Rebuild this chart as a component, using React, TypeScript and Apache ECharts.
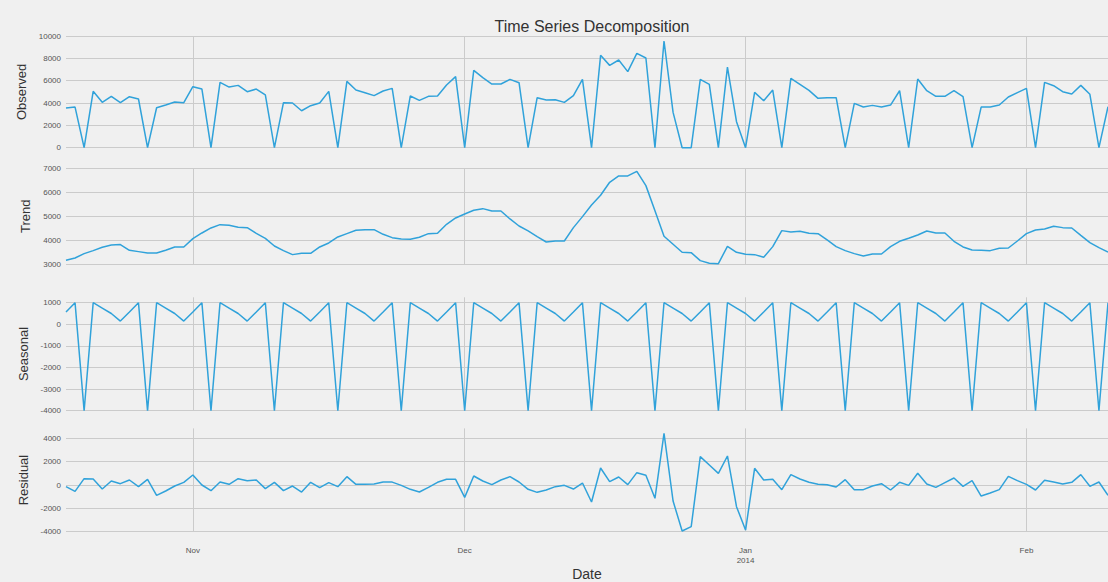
import React, { useEffect, useRef } from "react";
import * as echarts from "echarts";

const START_DATE = [2013, 9, 18]; // 2013-10-18 (month 0-based)

const observed = [
  3550, 3640, 0, 5045, 4060, 4600, 4030, 4570, 4360, 0,
  3580, 3820, 4090, 4030, 5460, 5250, 0, 5850, 5430, 5580,
  5015, 5250, 4720, 0, 4030, 4000, 3310, 3760, 4000, 5045,
  0, 5940, 5160, 4925, 4660, 5075, 5310, 0, 4630, 4240,
  4600, 4630, 5610, 6360, 0, 6925, 6270, 5700, 5700, 6120,
  5820, 0, 4480, 4270, 4300, 4060, 4660, 6120, 0, 8270,
  7370, 7850, 6810, 8450, 8030, 0, 9550, 3160, 0, 0,
  6120, 5670, 0, 7220, 2330, 0, 4955, 4210, 5160, 0,
  6210, 5670, 5130, 4420, 4480, 4480, 0, 3970, 3640, 3790,
  3640, 3820, 5100, 0, 6150, 5100, 4600, 4600, 5100, 4570,
  0, 3640, 3640, 3820, 4540, 4925, 5310, 0, 5850, 5550,
  5015, 4810, 5580, 4780, 0, 3670,
];

const trend = [
  3167, 3264, 3444, 3569, 3708, 3805, 3820, 3583, 3528, 3472,
  3472, 3583, 3722, 3722, 4069, 4305, 4514, 4653, 4625, 4542,
  4528, 4292, 4083, 3764, 3569, 3403, 3458, 3458, 3722, 3889,
  4139, 4278, 4417, 4444, 4444, 4250, 4111, 4056, 4042, 4125,
  4278, 4292, 4667, 4930, 5097, 5250, 5319, 5222, 5222, 4889,
  4597, 4389, 4153, 3930, 3972, 3972, 4528, 4986, 5472, 5875,
  6417, 6681, 6681, 6875, 6278, 5236, 4167, 3833, 3500, 3486,
  3153, 3042, 3028, 3750, 3500, 3417, 3403, 3292, 3736, 4403,
  4347, 4375, 4292, 4278, 4014, 3736, 3569, 3444, 3347, 3430,
  3430, 3736, 3958, 4083, 4222, 4389, 4305, 4305, 3958, 3722,
  3597, 3583, 3569, 3667, 3680, 3972, 4278, 4430, 4472, 4583,
  4528, 4514, 4208, 3903, 3694, 3514,
];

const seasonal = [
  570, 1000, -4000, 1000, 750, 500, 150,
  570, 1000, -4000, 1000, 750, 500, 150,
  570, 1000, -4000, 1000, 750, 500, 150,
  570, 1000, -4000, 1000, 750, 500, 150,
  570, 1000, -4000, 1000, 750, 500, 150,
  570, 1000, -4000, 1000, 750, 500, 150,
  570, 1000, -4000, 1000, 750, 500, 150,
  570, 1000, -4000, 1000, 750, 500, 150,
  570, 1000, -4000, 1000, 750, 500, 150,
  570, 1000, -4000, 1000, 750, 500, 150,
  570, 1000, -4000, 1000, 750, 500, 150,
  570, 1000, -4000, 1000, 750, 500, 150,
  570, 1000, -4000, 1000, 750, 500, 150,
  570, 1000, -4000, 1000, 750, 500, 150,
  570, 1000, -4000, 1000, 750, 500, 150,
  570, 1000, -4000, 1000, 750, 500, 150,
  570, 1000, -4000, 1000,
];

const residual = [
  -143, -543, 543, 514, -343, 343, 114, 429, -143, 486,
  -886, -514, -86, 229, 857, 0, -486, 257, 57, 543,
  371, 429, -314, 229, -486, -86, -600, 229, -229, 200,
  -143, 714, 57, 57, 86, 257, 250, -30, -371, -600,
  -200, 229, 486, 486, -1057, 771, 343, 29, 429, 714,
  257, -371, -629, -429, -143, -29, -343, 171, -1457, 1457,
  286, 686, 29, 1057, 829, -1143, 4429, -1371, -3943, -3571,
  2429, 1714, 1000, 2486, -1857, -3857, 1429, 429, 486, -400,
  886, 514, 229, 57, 29, -171, 457, -400, -400, -86,
  114, -429, 229, -29, 1000, 86, -200, 200, 600, -114,
  371, -943, -686, -400, 743, 371, 57, -429, 400, 257,
  86, 229, 886, -114, 257, -886,
];

const MONTHS = ["Jan", "Feb", "Mar", "Apr", "May", "Jun", "Jul", "Aug", "Sep", "Oct", "Nov", "Dec"];

const dates: string[] = observed.map((_, i) =>
  new Date(Date.UTC(START_DATE[0], START_DATE[1], START_DATE[2] + i)).toISOString().slice(0, 10)
);

const panelNames = ["Observed", "Trend", "Seasonal", "Residual"];
const panelSeries = [observed, trend, seasonal, residual];
const panelMin = [0, 3000, -4000, -4000];
const panelMax = [10000, 7000, 1250, 4848];
const panelInterval = [2000, 1000, 1000, 2000];

const FONT = "Liberation Sans, Arial, sans-serif";
const LINE_COLOR = "#30a2da";
const GRID_COLOR = "#cbcbcb";

const isMonthStart = (_i: number, v: string) => v.slice(8, 10) === "01";

export default function App() {
  const ref = useRef<HTMLDivElement>(null);

  useEffect(() => {
    if (!ref.current) return;
    const chart = echarts.init(ref.current, null, { renderer: "svg" });

    const layout = [
      { top: 36, height: 111.7 },
      { top: 168.3, height: 96 },
      { top: 297.3, height: 113.4 },
      { top: 428.4, height: 103.3 },
    ];

    const option: any = {
      animation: false,
      backgroundColor: "#f0f0f0",
      title: {
        text: "Time Series Decomposition",
        left: 587,
        top: 13,
        textAlign: "center",
        textStyle: { fontFamily: FONT, fontSize: 16, fontWeight: "normal", color: "#333" },
      },
      grid: layout.map((l) => ({ left: 66, width: 1042, top: l.top, height: l.height })),
      xAxis: panelNames.map((_, k) => ({
        type: "category",
        gridIndex: k,
        data: dates,
        boundaryGap: false,
        axisLine: { show: false },
        axisTick: { show: false },
        axisLabel: {
          show: k === 3,
          interval: isMonthStart,
          fontFamily: FONT,
          fontSize: 8,
          color: "#555",
          margin: 14,
          lineHeight: 10,
          formatter: (v: string) => {
            const y = v.slice(0, 4);
            const m = parseInt(v.slice(5, 7), 10) - 1;
            return m === 0 ? MONTHS[m] + "\n" + y : MONTHS[m];
          },
        },
        splitLine: { show: true, interval: isMonthStart, lineStyle: { color: GRID_COLOR, width: 1 } },
        name: k === 3 ? "Date" : "",
        nameLocation: "middle",
        nameGap: 34,
        nameTextStyle: { fontFamily: FONT, fontSize: 14, color: "#333" },
      })),
      yAxis: panelNames.map((name, k) => ({
        type: "value",
        gridIndex: k,
        min: panelMin[k],
        max: panelMax[k],
        interval: panelInterval[k],
        axisLine: { show: false },
        axisTick: { show: false },
        axisLabel: {
          fontFamily: FONT,
          fontSize: 8,
          color: "#555",
          margin: 5,
          showMaxLabel: k === 0 || k === 1,
          formatter: (v: number) => String(v),
        },
        splitLine: {
          show: true,
          showMaxLine: k === 0 || k === 1,
          lineStyle: { color: GRID_COLOR, width: 1 },
        },
        name,
        nameLocation: "middle",
        nameGap: 28,
        nameTextStyle: { fontFamily: FONT, fontSize: 13, color: "#333" },
      })),
      series: panelSeries.map((data, k) => ({
        type: "line",
        name: panelNames[k],
        xAxisIndex: k,
        yAxisIndex: k,
        data,
        showSymbol: false,
        symbol: "none",
        clip: false,
        lineStyle: { color: LINE_COLOR, width: 1.5 },
        itemStyle: { color: LINE_COLOR },
      })),
    };

    chart.setOption(option);
    return () => chart.dispose();
  }, []);

  return (
    <div
      ref={ref}
      style={{ position: "absolute", left: 0, top: 0, width: 1108, height: 582, background: "#f0f0f0" }}
    />
  );
}
